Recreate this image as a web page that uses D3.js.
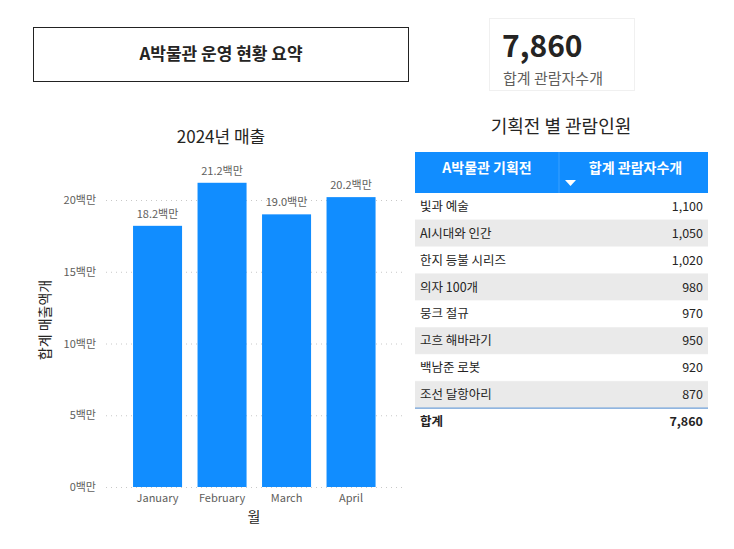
<!DOCTYPE html>
<html><head><meta charset="utf-8">
<script src="https://cdn.jsdelivr.net/npm/d3@7"></script>
<style>body{margin:0;background:#fff;font-family:"Noto Sans CJK KR","Noto Sans",sans-serif;}</style>
</head><body><svg id="c" width="734" height="549"></svg>
<script>
const months = ["January","February","March","April"];
const sales = [18.2,21.2,19.0,20.2];
const yTicks = [0,5,10,15,20];
const exhibitions = ["빛과 예술","AI시대와 인간","한지 등불 시리즈","의자 100개","뭉크 절규","고흐 해바라기","백남준 로봇","조선 달항아리"];
const visitors = [1100,1050,1020,980,970,950,920,870];

const svg = d3.select("#c");
const F = '"Noto Sans CJK KR","Noto Sans",sans-serif';
const fmt = d3.format(",");

// title box
svg.append("rect").attr("x",33.5).attr("y",27.5).attr("width",375).attr("height",54).attr("fill","none").attr("stroke","#222").attr("stroke-width",1);
svg.append("text").attr("x",221).attr("y",55).attr("text-anchor","middle").attr("dominant-baseline","middle")
  .attr("font-family",F).attr("font-size",17).attr("font-weight",700).attr("fill","#252423").text("A박물관 운영 현황 요약");

// card
const total = d3.sum(visitors);
svg.append("rect").attr("x",489.5).attr("y",18.5).attr("width",145).attr("height",72).attr("fill","none").attr("stroke","#f0f0f0");
svg.append("text").attr("x",502).attr("y",57).attr("font-family",F).attr("font-size",30).attr("font-weight",600).attr("fill","#252423").text(fmt(total));
svg.append("text").attr("x",503).attr("y",84).attr("font-family",F).attr("font-size",15).attr("fill","#605e5c").text("합계 관람자수개");

// bar chart
const x = d3.scaleBand().domain(months).range([125.3,383.3]).paddingInner(0.24).paddingOuter(0.12);
const y = d3.scaleLinear().domain([0,20]).range([487,200]);
svg.append("text").attr("x",221).attr("y",143).attr("text-anchor","middle").attr("font-family",F).attr("font-size",17).attr("fill","#252423").text("2024년 매출");
const yAxis = svg.append("g").attr("transform","translate(106,0)")
  .call(d3.axisLeft(y).tickValues(yTicks).tickFormat(d=>d+"백만").tickSize(-296).tickPadding(10));
yAxis.select(".domain").remove();
yAxis.selectAll("line").attr("stroke","#c8c8c8").attr("stroke-dasharray","1,4");
yAxis.selectAll("text").attr("font-family",F).attr("font-size",11).attr("fill","#605e5c");
const xAxis = svg.append("g").attr("transform","translate(0,487)").call(d3.axisBottom(x).tickSize(0).tickPadding(7));
xAxis.select(".domain").remove();
xAxis.selectAll("text").attr("font-family",F).attr("font-size",11).attr("fill","#605e5c");
svg.selectAll(".bar").data(sales).join("rect").attr("x",(d,i)=>x(months[i])).attr("y",d=>y(d))
  .attr("width",x.bandwidth()).attr("height",d=>y(0)-y(d)).attr("fill","#118dff");
svg.selectAll(".lbl").data(sales).join("text").attr("x",(d,i)=>x(months[i])+x.bandwidth()/2).attr("y",d=>y(d)-8)
  .attr("text-anchor","middle").attr("font-family",F).attr("font-size",11).attr("fill","#605e5c").text(d=>d.toFixed(1)+"백만");
svg.append("text").attr("x",254).attr("y",522).attr("text-anchor","middle").attr("font-family",F).attr("font-size",14).attr("fill","#252423").text("월");
svg.append("text").attr("transform","translate(50,320) rotate(-90)").attr("text-anchor","middle").attr("font-family",F).attr("font-size",14).attr("fill","#252423").text("합계 매출액개");

// table
svg.append("text").attr("x",561).attr("y",133).attr("text-anchor","middle").attr("font-family",F).attr("font-size",18).attr("fill","#252423").text("기획전 별 관람인원");
const tx0=415, tx1=708, split=559, hy=152, hh=41, rh=26.9;
svg.append("rect").attr("x",tx0).attr("y",hy).attr("width",tx1-tx0).attr("height",hh).attr("fill","#118dff");
svg.append("line").attr("x1",split).attr("x2",split).attr("y1",hy).attr("y2",hy+hh).attr("stroke","#3aa0ff");
svg.append("text").attr("x",(tx0+split)/2).attr("y",hy+17).attr("text-anchor","middle").attr("dominant-baseline","middle").attr("font-family",F).attr("font-size",14).attr("font-weight",600).attr("fill","#fff").text("A박물관 기획전");
svg.append("text").attr("x",(split+tx1)/2+2).attr("y",hy+17).attr("text-anchor","middle").attr("dominant-baseline","middle").attr("font-family",F).attr("font-size",14).attr("font-weight",600).attr("fill","#fff").text("합계 관람자수개");
svg.append("path").attr("d",`M${565},${hy+28} l11,0 l-5.5,6 z`).attr("fill","#fff");
const ry = d3.scaleBand().domain(exhibitions).range([hy+hh, hy+hh+rh*exhibitions.length]);
const rows = svg.selectAll(".row").data(exhibitions).join("g").attr("transform",d=>`translate(0,${ry(d)})`);
rows.append("rect").attr("x",tx0).attr("width",tx1-tx0).attr("height",rh).attr("fill",(d,i)=>i%2?"#eaeaea":"#fff");
rows.append("line").attr("x1",tx0).attr("x2",tx1).attr("y1",rh).attr("y2",rh).attr("stroke","#f4f4f4");
rows.append("text").attr("x",420).attr("y",rh/2+1).attr("dominant-baseline","middle").attr("font-family",F).attr("font-size",12.5).attr("fill","#252423").text(d=>d);
rows.append("text").attr("x",703).attr("y",rh/2+1).attr("text-anchor","end").attr("dominant-baseline","middle").attr("font-family",F).attr("font-size",12.5).attr("fill","#252423").text((d,i)=>fmt(visitors[i]));
const ty = hy+hh+rh*exhibitions.length;
svg.append("line").attr("x1",tx0).attr("x2",tx1).attr("y1",ty).attr("y2",ty).attr("stroke","#6e9fd8").attr("stroke-width",1.2);
svg.append("text").attr("x",420).attr("y",ty+14).attr("dominant-baseline","middle").attr("font-family",F).attr("font-size",12.5).attr("font-weight",700).attr("fill","#252423").text("합계");
svg.append("text").attr("x",703).attr("y",ty+14).attr("text-anchor","end").attr("dominant-baseline","middle").attr("font-family",F).attr("font-size",12.5).attr("font-weight",700).attr("fill","#252423").text(fmt(total));
</script></body></html>
